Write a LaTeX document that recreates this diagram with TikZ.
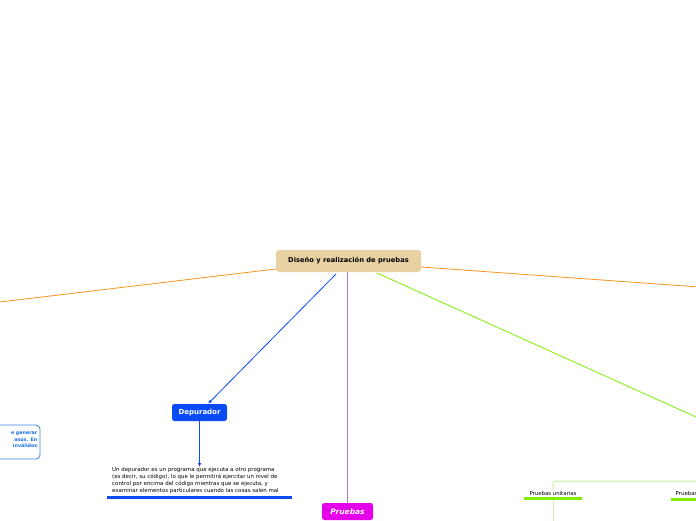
\documentclass[tikz,border=0pt]{standalone}
\usepackage{fontspec}
\setmainfont{DejaVu Sans}
\usetikzlibrary{arrows.meta}

\definecolor{rootfill}{HTML}{E8D2A4}
\definecolor{orangeln}{HTML}{F7941D}
\definecolor{blueln}{HTML}{0A4BF5}
\definecolor{purpleln}{HTML}{A47CC9}
\definecolor{magentafill}{HTML}{E400E8}
\definecolor{limeln}{HTML}{7FEE00}
\definecolor{limelight}{HTML}{C6F2A2}
\definecolor{boxblue}{HTML}{3A86E0}
\definecolor{boxtext}{HTML}{1A6FE0}

\begin{document}
\begin{tikzpicture}[
        x=1pt, y=-1pt,
        >={Latex[length=4pt,width=3.5pt]},
        root/.style={fill=rootfill, rounded corners=3pt, minimum width=145pt, minimum height=22pt, font=\fontsize{6.7}{8}\selectfont\bfseries, inner sep=0pt},
        topic/.style={rounded corners=2.5pt, text=white, minimum height=17pt, inner sep=0pt, font=\fontsize{7}{8}\selectfont\bfseries},
        notetext/.style={align=left, font=\fontsize{5.45}{6.9}\selectfont, inner sep=0pt},
        subtopic/.style={font=\fontsize{5.4}{6}\selectfont, inner sep=0pt, minimum width=58pt},
        uline/.style={line width=3pt},
        sideline/.style={line width=0.8pt}
      ]
      \clip (0,0) rectangle (696,520);
      \fill[white] (0,0) rectangle (696,520);

      \node[root] (root) at (348.5,261) {Diseño y realización de pruebas};

      % left box, partly outside the page
      \node[draw=boxblue, fill=white, rounded corners=4pt, line width=0.8pt, minimum width=80pt, minimum height=34pt] (leftbox) at (0,442) {};
      \node[anchor=east, align=right, text=boxtext, font=\fontsize{4.8}{6.5}\selectfont\bfseries, inner sep=0pt] (lefttext) at (37.5,440) {e generar\\asos. En\ \ \\inválidos};

      \node[topic, fill=blueln, minimum width=55pt] (depurador) at (199.5,412.5) {Depurador};
      \node[notetext, anchor=north west] (depnote) at (112,467) {Un depurador es un programa que ejecuta a otro programa\\(es decir, su código), lo que le permitirá ejercitar un nivel de\\control por encima del código mientras que se ejecuta, y\\examinar elementos particulares cuando las cosas salen mal};
      \coordinate (depline-l) at (107,497.5);
      \coordinate (depline-r) at (292,497.5);

      \node[topic, fill=magentafill, minimum width=51pt, font=\fontsize{7.5}{8}\selectfont\bfseries\itshape] (pruebas) at (347.5,511.5) {Pruebas};

      \node[subtopic] (unitarias) at (553,493) {Pruebas unitarias};
      \node[subtopic, anchor=west, minimum width=0pt] (otras) at (675.5,493) {Pruebas};
      \coordinate (otras-ul) at (671,499);

      % ends off the page
      \coordinate (off-left) at (-10,303.2);
      \coordinate (off-right) at (706,287.5);
      \coordinate (off-lime) at (706,421.5);
      \coordinate (off-group) at (706,481);
      \coordinate (off-down) at (553,530);

      \draw[orangeln, sideline] (root.west |- 0,269) -- (off-left);
      \draw[orangeln, sideline] (root.east |- 0,267) -- (off-right);
      \draw[blueln, sideline, ->] (336,274) -- ([xshift=8.5pt]depurador.north);
      \draw[blueln, sideline, ->] (depurador.south) -- (depnote.north -| depurador);
      \draw[blueln, uline] (depline-l) -- (depline-r);
      \draw[purpleln, line width=1.2pt] (root.south -| pruebas) -- (pruebas.north);
      \draw[limeln, sideline] (377,273) -- (off-lime);

      \draw[limelight, line width=1pt, rounded corners=3pt] (off-group) -| (unitarias.north);
      \draw[limelight, line width=1pt] (unitarias.south) ++(0,3) -- (off-down);
      \draw[limeln, uline] ([yshift=-3pt]unitarias.south west) -- ([yshift=-3pt]unitarias.south east);
      \draw[limeln, uline] (otras-ul) -- (off-group |- otras-ul);
    \end{tikzpicture}
\end{document}
